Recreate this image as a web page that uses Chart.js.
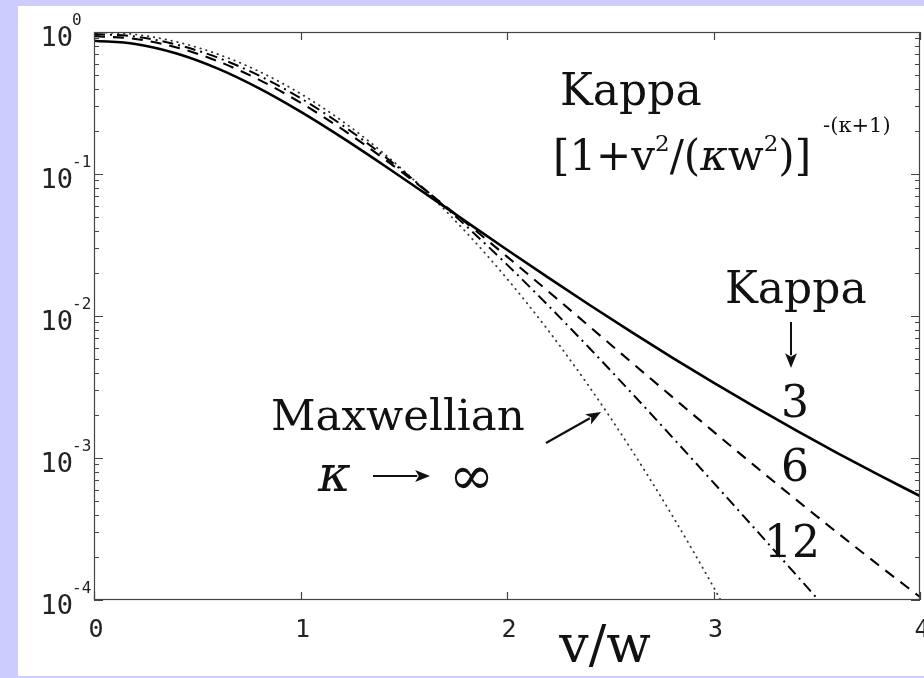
<!DOCTYPE html>
<html>
<head>
<meta charset="utf-8">
<script src="https://cdn.jsdelivr.net/npm/chart.js@4.4.1/dist/chart.umd.min.js"></script>
<style>
  html, body { margin: 0; padding: 0; background: #ccccff; overflow: hidden; }
  canvas { display: block; }
</style>
</head>
<body>
<canvas id="c" width="924" height="678"></canvas>
<script>
// ---- data ----
const vValues   = [0, 0.2, 0.4, 0.6, 0.8, 1.0, 1.2, 1.4, 1.6, 1.8, 2.0, 2.2, 2.4, 2.6, 2.8, 3.0, 3.2, 3.4, 3.6, 3.8, 4.0];
const kappa3    = [0.8686, 0.8238, 0.7056, 0.5521, 0.4008, 0.2748, 0.1810, 0.1162, 0.07362, 0.04641, 0.02930, 0.01862, 0.01195, 0.007753, 0.005096, 0.003393, 0.002290, 0.001566, 0.001084, 0.0007605, 0.0005399];
const kappa6    = [0.9359, 0.8934, 0.7784, 0.6224, 0.4604, 0.3181, 0.2076, 0.1294, 0.07779, 0.04556, 0.02620, 0.01490, 0.008423, 0.004757, 0.002694, 0.001533, 0.0008794, 0.0005089, 0.0002975, 0.0001758, 0.0001050];
const kappa12   = [0.9684, 0.9274, 0.8152, 0.6594, 0.4928, 0.3421, 0.2219, 0.1355, 0.07840, 0.04331, 0.02301, 0.01183, 0.005924, 0.002906, 0.001404, 0.0006707, 0.0003182, 0.0001504, 0.0000710, 0.0000336];
const maxwell   = [1.0, 0.9608, 0.8521, 0.6977, 0.5273, 0.3679, 0.2369, 0.1409, 0.07731, 0.03916, 0.01832, 0.007907, 0.003151, 0.001159, 0.0003937, 0.0001234, 0.0000357];
const kappaLabels = ["3", "6", "12"];
const xTicks = [0, 1, 2, 3, 4];
const yTickExponents = [0, -1, -2, -3, -4];

function pts(arr) { return arr.map((y, i) => ({ x: vValues[i], y: y })); }

const SERIF = '"DejaVu Serif", "Liberation Serif", serif';
const MONO = '"DejaVu Sans Mono", "Liberation Mono", monospace';
const INK = '#111';

function arrow(ctx, x1, y1, x2, y2, head) {
  const a = Math.atan2(y2 - y1, x2 - x1);
  ctx.beginPath();
  ctx.moveTo(x1, y1);
  ctx.lineTo(x2 - Math.cos(a) * head * 0.8, y2 - Math.sin(a) * head * 0.8);
  ctx.stroke();
  ctx.beginPath();
  ctx.moveTo(x2, y2);
  ctx.lineTo(x2 - Math.cos(a - 0.38) * head, y2 - Math.sin(a - 0.38) * head);
  ctx.lineTo(x2 - Math.cos(a) * head * 0.7, y2 - Math.sin(a) * head * 0.7);
  ctx.lineTo(x2 - Math.cos(a + 0.38) * head, y2 - Math.sin(a + 0.38) * head);
  ctx.closePath();
  ctx.fill();
}

function runs(ctx, parts, x, y) {
  let cx = x;
  for (const p of parts) {
    ctx.font = p.f;
    ctx.fillText(p.t, cx, y + (p.dy || 0));
    cx += ctx.measureText(p.t).width + (p.sp || 0);
  }
  return cx;
}

const framePlugin = {
  id: 'frame',
  beforeDraw(chart) {
    const ctx = chart.ctx;
    ctx.save();
    ctx.fillStyle = '#ccccff';
    ctx.fillRect(0, 0, chart.width, chart.height);
    ctx.fillStyle = '#ffffff';
    ctx.fillRect(18, 6, chart.width - 18, 670);
    ctx.restore();
  },
  afterDraw(chart) {
    const ctx = chart.ctx;
    const xs = chart.scales.x, ys = chart.scales.y;
    const L = xs.left, R = xs.right, T = ys.top, B = ys.bottom;
    ctx.save();
    // box
    ctx.strokeStyle = '#444';
    ctx.lineWidth = 1.2;
    ctx.strokeRect(L + 0.5, T + 0.5, R - L - 1, B - T - 1);
    // x ticks
    ctx.beginPath();
    for (const v of xTicks) {
      const px = Math.round(xs.getPixelForValue(v)) + 0.5;
      ctx.moveTo(px, B); ctx.lineTo(px, B - 8);
      ctx.moveTo(px, T); ctx.lineTo(px, T + 8);
    }
    // y ticks (major + minor)
    for (const e of yTickExponents) {
      const py = Math.round(ys.getPixelForValue(Math.pow(10, e))) + 0.5;
      ctx.moveTo(L, py); ctx.lineTo(L + 9, py);
      ctx.moveTo(R, py); ctx.lineTo(R - 9, py);
      if (e < 0) {
        for (let m = 2; m <= 9; m++) {
          const q = Math.round(ys.getPixelForValue(m * Math.pow(10, e))) + 0.5;
          ctx.moveTo(L, q); ctx.lineTo(L + 5, q);
          ctx.moveTo(R, q); ctx.lineTo(R - 5, q);
        }
      }
    }
    ctx.stroke();

    // tick labels
    ctx.fillStyle = '#222';
    ctx.textBaseline = 'alphabetic';
    ctx.textAlign = 'center';
    ctx.font = '25px ' + MONO;
    for (const v of xTicks) {
      ctx.fillText(String(v), xs.getPixelForValue(v) + 2, B + 37);
    }
    for (const e of yTickExponents) {
      const py = ys.getPixelForValue(Math.pow(10, e));
      ctx.textAlign = 'right';
      ctx.font = '27px ' + MONO;
      ctx.fillText('10', 73, py + 14);
      ctx.textAlign = 'left';
      ctx.font = '16px ' + MONO;
      ctx.fillText(e === 0 ? '0' : '-' + Math.abs(e), 72, py - 7);
    }

    // annotations
    ctx.fillStyle = INK;
    ctx.strokeStyle = INK;
    ctx.textAlign = 'left';
    ctx.font = '44px ' + SERIF;
    ctx.fillText('Kappa', 560, 105);
    const base = '42px ' + SERIF, sup = '23px ' + SERIF, it = 'italic 42px ' + SERIF;
    runs(ctx, [
      { t: '[1+v', f: base },
      { t: '2', f: sup, dy: -19 },
      { t: '/(', f: base },
      { t: '\u03ba', f: it },
      { t: 'w', f: base },
      { t: '2', f: sup, dy: -19 },
      { t: ')]', f: base, sp: 12 },
      { t: '-(\u03ba+1)', f: '21px ' + SERIF, dy: -38 }
    ], 553, 170);

    ctx.font = '44px ' + SERIF;
    ctx.fillText('Kappa', 725, 303);
    ctx.lineWidth = 2;
    arrow(ctx, 791, 322, 791, 368, 16);
    ctx.textAlign = 'center';
    ctx.font = '44px ' + SERIF;
    ctx.fillText(kappaLabels[0], 795, 417);
    ctx.fillText(kappaLabels[1], 795, 481);
    ctx.fillText(kappaLabels[2], 792, 557);

    ctx.textAlign = 'left';
    ctx.font = '43.5px ' + SERIF;
    ctx.fillText('Maxwellian', 271, 430);
    ctx.font = 'italic 50px ' + SERIF;
    ctx.fillText('\u03ba', 318, 491);
    ctx.lineWidth = 2;
    arrow(ctx, 373, 476, 430, 476, 16);
    ctx.font = '54px ' + SERIF;
    ctx.fillText('\u221e', 449, 494);
    ctx.lineWidth = 2.2;
    arrow(ctx, 546, 443, 601, 412, 16);

    // axis title
    ctx.textAlign = 'center';
    ctx.font = '52px ' + SERIF;
    ctx.fillText('v/w', 605, 662);
    ctx.restore();
  }
};

new Chart(document.getElementById('c'), {
  type: 'line',
  data: {
    datasets: [
      { label: 'Kappa 3', data: pts(kappa3), borderColor: '#000', borderWidth: 2.6 },
      { label: 'Kappa 6', data: pts(kappa6), borderColor: '#000', borderWidth: 2.1, borderDash: [11, 8] },
      { label: 'Kappa 12', data: pts(kappa12), borderColor: '#000', borderWidth: 2.0, borderDash: [11, 5, 2, 5] },
      { label: 'Maxwellian', data: pts(maxwell), borderColor: '#333', borderWidth: 1.8, borderDash: [0.5, 5.5], borderCapStyle: 'round' }
    ]
  },
  options: {
    responsive: false,
    animation: false,
    devicePixelRatio: 1,
    layout: { padding: { left: 94, top: 32, right: 4, bottom: 78 } },
    elements: { point: { radius: 0 }, line: { cubicInterpolationMode: 'monotone', fill: false } },
    datasets: { line: { clip: 0 } },
    plugins: { legend: { display: false }, tooltip: { enabled: false } },
    scales: {
      x: { type: 'linear', min: 0, max: 4, display: false },
      y: { type: 'logarithmic', min: 1e-4, max: 1, display: false }
    }
  },
  plugins: [framePlugin]
});
</script>
</body>
</html>
